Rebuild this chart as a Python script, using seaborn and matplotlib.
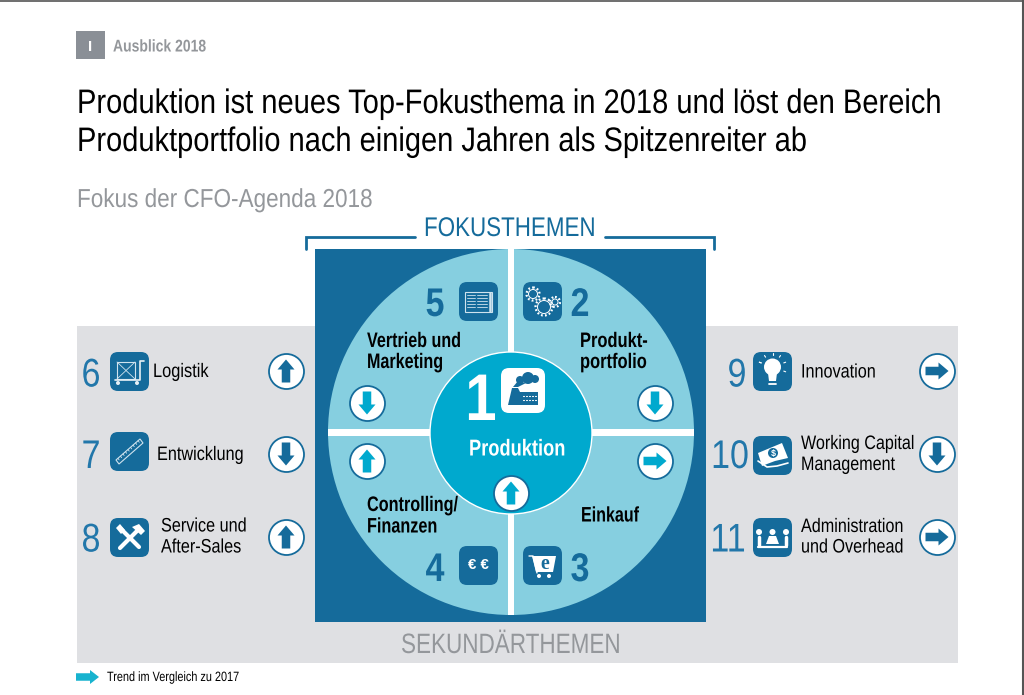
import numpy as np
import pandas as pd
import matplotlib.pyplot as plt
import seaborn as sns
from matplotlib.patches import Circle, FancyBboxPatch, Polygon, Rectangle
from matplotlib.patheffects import AbstractPathEffect
from matplotlib.transforms import Affine2D

# content
ranks = [1, 2, 3, 4, 5, 6, 7, 8, 9, 10, 11]
topics = [["Produktion"], ["Produkt-", "portfolio"], ["Einkauf"], ["Controlling/", "Finanzen"],
          ["Vertrieb und", "Marketing"], ["Logistik"], ["Entwicklung"], ["Service und", "After-Sales"],
          ["Innovation"], ["Working Capital", "Management"], ["Administration", "und Overhead"]]
trends = ["up", "down", "right", "up", "down", "up", "down", "up", "right", "down", "right"]

header = "Ausblick 2018"
title_lines = ["Produktion ist neues Top-Fokusthema in 2018 und löst den Bereich",
               "Produktportfolio nach einigen Jahren als Spitzenreiter ab"]
subtitle = "Fokus der CFO-Agenda 2018"
legend_text = "Trend im Vergleich zu 2017"

# layout, in pixels of the page
badge_x = [511, 655, 655, 367, 367, 286, 286, 286, 937, 937, 937]
badge_y = [493, 403, 461, 461, 403, 371, 454, 537, 371, 454, 537]
icon_x = [None, 523, 523, 459, 459, 110, 110, 110, 753, 753, 753]
icon_y = [None, 282, 546, 546, 282, 352, 432, 518, 352, 436, 518]
num_x = [None, 580, 580, 435, 435, 91, 91, 91, 737, 730, 728]
num_base = [None, 316, 581, 581, 316, 386.5, 468, 551.5, 386.5, 468, 551.5]
label_x = [469, 580, 581, 367, 367, 153, 157, 161, 801, 801, 801]
label_base = [[455.5], [347, 368], [521.5], [511, 532.5], [347, 368], [377], [460], [531.5, 552.5],
              [377.5], [449, 470], [532, 552.5]]
label_width = [96, 67, 58, 91, 94, 56, 87, 86, 75, 114, 103]

DARK = "#156b9b"
NUM = "#2277aa"
LIGHT = "#86cfe0"
CYAN = "#00a9ce"
GREY_BG = "#dfe0e3"
GREY_TXT = "#94979b"
ICON_SZ = 39

sns.set_theme(style="white")
plt.rcParams['font.family'] = ['Liberation Sans', 'DejaVu Sans']

fig, ax = plt.subplots(figsize=(10.24, 6.95), dpi=100)
ax.set_position([0, 0, 1, 1])
ax.set_xlim(0, 1024)
ax.set_ylim(695, 0)
ax.axis("off")
renderer = fig.canvas.get_renderer()


class Squeeze(AbstractPathEffect):
    # the page uses a condensed Helvetica, no such font here, so squeeze the glyphs around x0
    def __init__(self, x0, sx):
        super().__init__()
        self.x0 = x0
        self.sx = sx

    def draw_path(self, renderer, gc, tpath, affine, rgbFace=None):
        squeeze = Affine2D().translate(-self.x0, 0).scale(self.sx, 1).translate(self.x0, 0)
        renderer.draw_path(gc, tpath, affine + squeeze, rgbFace)


def px(size):
    return size * 0.72


def txt(x, y, s, size, color="black", weight="normal", ha="left", z=8, fit=None, sx=None, **kw):
    t = ax.text(x, y, s, fontsize=px(size), color=color, fontweight=weight, ha=ha, va="baseline", zorder=z, **kw)
    if fit:
        sx = fit / t.get_window_extent(renderer).width
    if sx:
        t.set_path_effects([Squeeze(x, sx)])
    return t


def white_line(xs, ys, lw=1.0, z=7, color="white", **kw):
    ax.plot(xs, ys, color=color, lw=lw, zorder=z, solid_capstyle="round", **kw)


def white_poly(pts, z=7, color="white", **kw):
    ax.add_patch(Polygon(pts, closed=True, fc=color, ec="none", zorder=z, **kw))


def rounded(x, y, w, h, r, fc, z=5):
    ax.add_patch(FancyBboxPatch((x + r, y + r), w - 2 * r, h - 2 * r, boxstyle=f"round,pad={r}",
                                fc=fc, ec="none", zorder=z))


def arrow_pts(cx, cy, direction, length, shaft, head, head_len):
    # pointing right, around the origin, then turned
    L = length / 2
    pts = np.array([[-L, -shaft / 2], [L - head_len, -shaft / 2], [L - head_len, -head / 2], [L, 0],
                    [L - head_len, head / 2], [L - head_len, shaft / 2], [-L, shaft / 2]])
    ang = {"right": 0, "up": -np.pi / 2, "down": np.pi / 2}[direction]
    rot = np.array([[np.cos(ang), -np.sin(ang)], [np.sin(ang), np.cos(ang)]])
    return pts @ rot.T + [cx, cy]


# background blocks
ax.add_patch(Rectangle((77, 326), 881, 337, fc=GREY_BG, ec="none", zorder=1))
ax.add_patch(Rectangle((315, 249), 391, 373, fc=DARK, ec="none", zorder=2))
ax.add_patch(Circle((511, 432), 183, fc=LIGHT, ec="none", zorder=3))
ax.add_patch(Rectangle((507.7, 249), 6.5, 366, fc="white", ec="none", zorder=3.2))
ax.add_patch(Rectangle((328, 428.5), 366, 7, fc="white", ec="none", zorder=3.2))
ax.add_patch(Circle((511, 433), 81, fc=CYAN, ec="white", lw=1, zorder=3.5))

# bracket over the focus topics
ax.plot([306, 306, 415], [249, 237, 237], color=DARK, lw=2, zorder=3, solid_joinstyle="miter")
ax.plot([605, 714, 714], [237, 237, 249], color=DARK, lw=2, zorder=3, solid_joinstyle="miter")

# header
ax.add_patch(Rectangle((76, 31), 29, 28, fc="#8a8f96", ec="none", zorder=2))
txt(90.5, 51, "I", 15, "white", "bold", ha="center")
txt(113, 51.5, header, 17, GREY_TXT, "bold", fit=93)
# centred, the unsqueezed width of the long line would not fit on the page otherwise
txt(510, 113, title_lines[0], 34, ha="center", fit=866)
txt(442.5, 151, title_lines[1], 34, ha="center", fit=731)
txt(77, 207, subtitle, 26, GREY_TXT, fit=296)
txt(510, 236, "FOKUSTHEMEN", 27, DARK, ha="center", fit=172)
txt(510.5, 653, "SEKUNDÄRTHEMEN", 28, GREY_TXT, ha="center", fit=219)

# trend badges
badges = pd.DataFrame({"x": badge_x, "y": badge_y, "rank": ranks, "trend": trends})
sns.scatterplot(data=badges, x="x", y="y", s=px(35) ** 2, color="white", edgecolor=DARK, linewidth=1.3,
                zorder=6, legend=False, ax=ax, clip_on=False)
ax.set_xlim(0, 1024)
ax.set_ylim(695, 0)
ax.axis("off")
for bx, by, rk, tr in zip(badge_x, badge_y, ranks, trends):
    col = CYAN if rk <= 5 else DARK
    white_poly(arrow_pts(bx, by, tr, 23, 8.5, 17, 10), z=7, color=col)

# legend
white_poly(arrow_pts(87.5, 677, "right", 23, 7.5, 14, 9), color="#18b3cf")
txt(107, 681, legend_text, 13.5, fit=132)

# numbers, labels, icon tiles
for i, rk in enumerate(ranks):
    focus = rk <= 5
    color = "white" if rk == 1 else "black"
    size = 23 if rk == 1 else 21 if focus else 19.5
    weight = "bold" if focus else "normal"
    # squeeze comes from the widest line, the other line takes the same
    probe = ax.text(0, 0, max(topics[i], key=len), fontsize=px(size), fontweight=weight)
    sx = label_width[i] / probe.get_window_extent(renderer).width
    probe.remove()
    for line, base in zip(topics[i], label_base[i]):
        txt(label_x[i], base, line, size, color, weight, sx=sx)
    if rk == 1:
        continue
    txt(num_x[i], num_base[i], str(rk), 40, DARK if focus else NUM, weight, ha="center", sx=.85)
    rounded(icon_x[i], icon_y[i], ICON_SZ, ICON_SZ, 8, DARK)

# big 1 with the factory tile
txt(481, 420, "1", 66, "white", "bold", ha="center", sx=.85)
rounded(501, 368, 44, 45, 8, "white")
white_poly([(508, 405), (512, 388), (518, 388), (520, 392), (538, 392), (538, 405)], color=DARK)
for hx in np.arange(523, 537, 3):
    white_line([hx, hx + 1], [396, 396], lw=.8, z=8)
    white_line([hx, hx + 1], [400, 400], lw=.8, z=8)
ax.add_patch(Circle((520, 380), 4, fc=DARK, ec="none", zorder=7))
ax.add_patch(Circle((528, 378), 6, fc=DARK, ec="none", zorder=7))
ax.add_patch(Circle((535, 379), 4, fc=DARK, ec="none", zorder=7))
white_poly([(513, 387), (518, 381), (526, 383), (518, 387)], color=DARK)


# icons, x and y are the top left of the tile
def icon_gears(x, y):
    for cx, cy, r in [(10, 12, 4.5), (21, 25, 6.5), (32, 20, 3)]:
        ax.add_patch(Circle((x + cx, y + cy), r, fc="none", ec="white", lw=.7, zorder=7))
        ax.add_patch(Circle((x + cx, y + cy), r + 2, fc="none", ec="white", lw=1.6, ls=(0, (.8, 1)), zorder=7))


def icon_paper(x, y):
    ax.add_patch(Rectangle((x + 6, y + 10), 27, 20, fc="none", ec="#cfe3ee", lw=.8, zorder=7))
    white_line([x + 31, x + 31], [y + 11, y + 29], lw=1.8, color="#cfe3ee")
    for dy in [13, 16, 19, 22, 25]:
        white_line([x + 8, x + 16], [y + dy, y + dy], lw=.6, color="#cfe3ee")
        white_line([x + 18, x + 28], [y + dy, y + dy], lw=.6, color="#cfe3ee")


def icon_euro(x, y):
    txt(x + 19.5, y + 23, "€ €", 15, "white", "bold", ha="center")


def icon_cart(x, y):
    white_poly([(x + 9, y + 10), (x + 33, y + 10), (x + 30, y + 26), (x + 13, y + 26)])
    white_line([x + 6, x + 10, x + 14], [y + 10, y + 10, y + 27], lw=1)
    for dx in [16, 26]:
        ax.add_patch(Circle((x + dx, y + 30), 2, fc="white", ec="none", zorder=7))
    txt(x + 22, y + 23, "e", 20, DARK, "bold", ha="center", family="Liberation Serif")


def icon_trolley(x, y):
    ax.add_patch(Rectangle((x + 7, y + 10), 18, 17, fc="none", ec="#cfe3ee", lw=.8, zorder=7))
    white_line([x + 7, x + 25], [y + 10, y + 27], lw=.6, color="#cfe3ee")
    white_line([x + 7, x + 25], [y + 27, y + 10], lw=.6, color="#cfe3ee")
    white_line([x + 5, x + 30, x + 30, x + 34], [y + 28, y + 28, y + 9, y + 9], lw=1.2, color="#e6f0f5")
    for dx in [8, 27]:
        ax.add_patch(Circle((x + dx, y + 31), 2, fc="#e6f0f5", ec="none", zorder=7))


def icon_ruler(x, y):
    ax.add_patch(Polygon([(x + 6, y + 28), (x + 30, y + 7), (x + 33, y + 11), (x + 9, y + 32)], closed=True,
                         fc="none", ec="#cfe3ee", lw=.8, zorder=7))
    for t in np.linspace(.08, .92, 9):
        px0, py0 = x + 6 + 24 * t, y + 28 - 21 * t
        white_line([px0, px0 + 1.2], [py0, py0 + 1.6], lw=.6, color="#cfe3ee")


def icon_tools(x, y):
    white_line([x + 11, x + 29], [y + 11, y + 29], lw=3)
    white_line([x + 28, x + 10], [y + 12, y + 30], lw=3)
    white_poly([(x + 22, y + 9), (x + 29, y + 6), (x + 35, y + 13), (x + 31, y + 17)])
    white_poly([(x + 6, y + 10), (x + 10, y + 6), (x + 15, y + 12), (x + 11, y + 16)])


def icon_bulb(x, y):
    ax.add_patch(Circle((x + 19.5, y + 15), 8.5, fc="white", ec="none", zorder=7))
    white_poly([(x + 15, y + 21), (x + 24, y + 21), (x + 23, y + 29), (x + 16, y + 29)])
    white_line([x + 16, x + 23], [y + 32, y + 32], lw=1.3)
    for a in np.deg2rad([-160, -125, -90, -55, -20, 20, 200]):
        white_line([x + 19.5 + 12 * np.cos(a), x + 19.5 + 14 * np.cos(a)],
                   [y + 15 + 12 * np.sin(a), y + 15 + 14 * np.sin(a)], lw=.8)


def icon_money(x, y):
    white_poly([(x + 5, y + 17), (x + 29, y + 7), (x + 35, y + 22), (x + 22, y + 25), (x + 14, y + 28), (x + 9, y + 30)])
    white_line([x + 5, x + 14, x + 24, x + 35], [y + 25, y + 31, y + 30, y + 27], lw=1.2)
    ax.add_patch(Circle((x + 20, y + 17), 5, fc=DARK, ec="none", zorder=8))
    txt(x + 20, y + 20, "$", 9, "white", "bold", ha="center", z=9)


def icon_meeting(x, y):
    for dx in [6, 19.5, 33]:
        ax.add_patch(Circle((x + dx, y + 14), 3, fc="white", ec="none", zorder=7))
    for dx in [6, 33]:
        white_line([x + dx, x + dx], [y + 19, y + 27], lw=2.5)
    white_poly([(x + 13, y + 26), (x + 16, y + 18), (x + 23, y + 18), (x + 26, y + 26)])
    white_line([x + 5, x + 34], [y + 29, y + 29], lw=1.6)


icons = {2: icon_gears, 3: icon_cart, 4: icon_euro, 5: icon_paper, 6: icon_trolley, 7: icon_ruler,
         8: icon_tools, 9: icon_bulb, 10: icon_money, 11: icon_meeting}
for i, rk in enumerate(ranks):
    if rk in icons:
        icons[rk](icon_x[i], icon_y[i])

# thin page border of the scan
ax.plot([0, 1023], [0.5, 0.5], color="#555555", lw=1.2, zorder=9)
ax.plot([1023, 1023], [0, 695], color="#555555", lw=1.5, zorder=9)

fig.savefig("out.png", dpi=100)
